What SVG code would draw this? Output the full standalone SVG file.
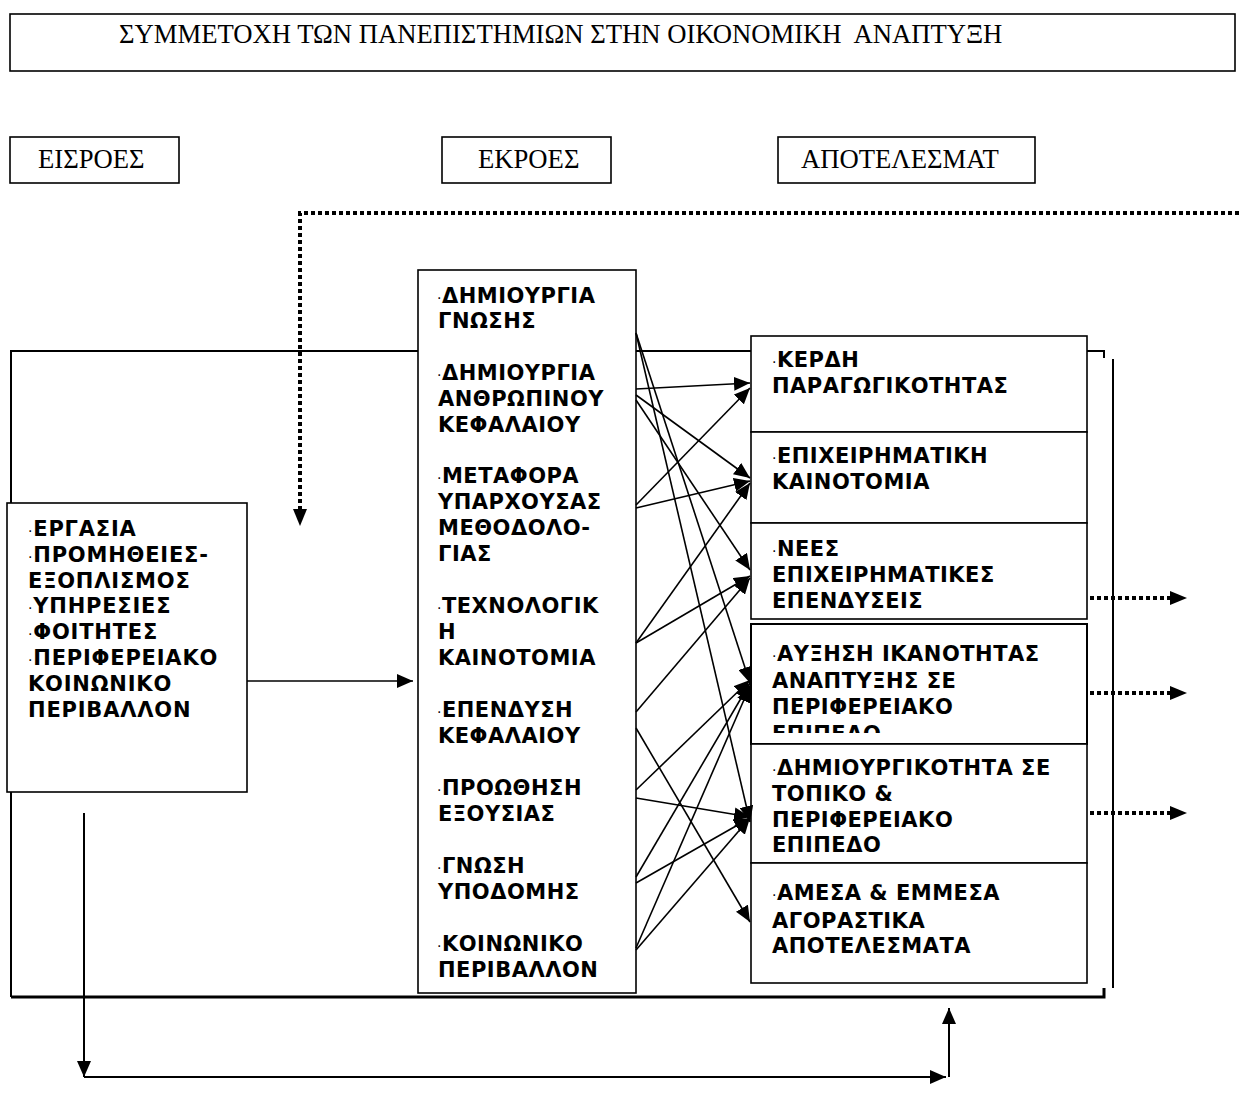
<svg xmlns="http://www.w3.org/2000/svg" width="1239" height="1107" viewBox="0 0 1239 1107">
<style>
.box{fill:#fff;stroke:#000;stroke-width:1.6}
.t{font-family:"Liberation Serif","Times New Roman",serif;font-size:26.67px;fill:#000}
.b{font-family:"DejaVu Sans",Verdana,sans-serif;font-weight:bold;font-size:21px;fill:#000;letter-spacing:0.5px}
.bul{font-size:14px;font-weight:normal}
.con{stroke:#000;stroke-width:1.6;fill:none}
.dot{stroke:#000;stroke-width:4;fill:none;stroke-dasharray:4 3}
.frame{stroke:#000;stroke-width:2;fill:none}
</style>
<defs>
<marker id="ah" viewBox="0 0 16 14" refX="16" refY="7" markerWidth="16" markerHeight="14" markerUnits="userSpaceOnUse" orient="auto"><path d="M0,0 L16,7 L0,14 z" fill="#000"/></marker>
<marker id="ahd" viewBox="0 0 17 14" refX="0" refY="7" markerWidth="17" markerHeight="14" markerUnits="userSpaceOnUse" orient="auto"><path d="M0,0 L17,7 L0,14 z" fill="#000"/></marker>
<clipPath id="clipD"><rect x="751" y="624" width="335" height="109"/></clipPath>
</defs>

<g id="frame">
<path class="frame" d="M1104,358 V351 H11 V997"/>
<path class="frame" style="stroke-width:3" d="M11,997 H1104 V988"/>
<path class="frame" d="M1113,359 V988"/>
</g>

<g id="title">
<rect class="box" x="10" y="14" width="1225" height="57"/>
<text class="t" x="119" y="43" xml:space="preserve">ΣΥΜΜΕΤΟΧΗ ΤΩΝ ΠΑΝΕΠΙΣΤΗΜΙΩΝ ΣΤΗΝ ΟΙΚΟΝΟΜΙΚΗ  ΑΝΑΠΤΥΞΗ</text>
</g>
<g id="h-inputs">
<rect class="box" x="10" y="137" width="169" height="46"/>
<text class="t" x="38" y="168">ΕΙΣΡΟΕΣ</text>
</g>
<g id="h-outputs">
<rect class="box" x="442" y="137" width="169" height="46"/>
<text class="t" x="478" y="168">ΕΚΡΟΕΣ</text>
</g>
<g id="h-results">
<rect class="box" x="778" y="137" width="257" height="46"/>
<text class="t" x="801" y="168">ΑΠΟΤΕΛΕΣΜΑΤ</text>
</g>

<g id="inputs">
<rect class="box" x="7" y="503" width="240" height="289"/>
<text class="b" style="letter-spacing:0.8px"><tspan x="28" y="536"><tspan class="bul">·</tspan>ΕΡΓΑΣΙΑ</tspan><tspan x="28" y="562"><tspan class="bul">·</tspan>ΠΡΟΜΗΘΕΙΕΣ-</tspan><tspan x="28" y="588">ΕΞΟΠΛΙΣΜΟΣ</tspan><tspan x="28" y="613"><tspan class="bul">·</tspan>ΥΠΗΡΕΣΙΕΣ</tspan><tspan x="28" y="639"><tspan class="bul">·</tspan>ΦΟΙΤΗΤΕΣ</tspan><tspan x="28" y="665"><tspan class="bul">·</tspan>ΠΕΡΙΦΕΡΕΙΑΚΟ</tspan><tspan x="28" y="691">ΚΟΙΝΩΝΙΚΟ</tspan><tspan x="28" y="717">ΠΕΡΙΒΑΛΛΟΝ</tspan></text>
</g>

<g id="outputs">
<rect class="box" x="418" y="270" width="218" height="723"/>
<text class="b"><tspan x="437" y="303"><tspan class="bul">·</tspan>ΔΗΜΙΟΥΡΓΙΑ</tspan><tspan x="438" y="328">ΓΝΩΣΗΣ</tspan><tspan x="437" y="380"><tspan class="bul">·</tspan>ΔΗΜΙΟΥΡΓΙΑ</tspan><tspan x="438" y="406">ΑΝΘΡΩΠΙΝΟΥ</tspan><tspan x="438" y="432">ΚΕΦΑΛΑΙΟΥ</tspan><tspan x="437" y="483"><tspan class="bul">·</tspan>ΜΕΤΑΦΟΡΑ</tspan><tspan x="438" y="509">ΥΠΑΡΧΟΥΣΑΣ</tspan><tspan x="438" y="535">ΜΕΘΟΔΟΛΟ-</tspan><tspan x="438" y="561">ΓΙΑΣ</tspan><tspan x="437" y="613"><tspan class="bul">·</tspan>ΤΕΧΝΟΛΟΓΙΚ</tspan><tspan x="438" y="639">Η</tspan><tspan x="438" y="665">ΚΑΙΝΟΤΟΜΙΑ</tspan><tspan x="437" y="717"><tspan class="bul">·</tspan>ΕΠΕΝΔΥΣΗ</tspan><tspan x="438" y="743">ΚΕΦΑΛΑΙΟΥ</tspan><tspan x="437" y="795"><tspan class="bul">·</tspan>ΠΡΟΩΘΗΣΗ</tspan><tspan x="438" y="821">ΕΞΟΥΣΙΑΣ</tspan><tspan x="437" y="873"><tspan class="bul">·</tspan>ΓΝΩΣΗ</tspan><tspan x="438" y="899">ΥΠΟΔΟΜΗΣ</tspan><tspan x="437" y="951"><tspan class="bul">·</tspan>ΚΟΙΝΩΝΙΚΟ</tspan><tspan x="438" y="977">ΠΕΡΙΒΑΛΛΟΝ</tspan></text>
</g>

<g id="r-productivity">
<rect class="box" x="751" y="336" width="336" height="96"/>
<text class="b"><tspan x="772" y="367"><tspan class="bul">·</tspan>ΚΕΡΔΗ</tspan><tspan x="772" y="393">ΠΑΡΑΓΩΓΙΚΟΤΗΤΑΣ</tspan></text>
</g>
<g id="r-innovation">
<rect class="box" x="751" y="432" width="336" height="91"/>
<text class="b"><tspan x="772" y="463"><tspan class="bul">·</tspan>ΕΠΙΧΕΙΡΗΜΑΤΙΚΗ</tspan><tspan x="772" y="489">ΚΑΙΝΟΤΟΜΙΑ</tspan></text>
</g>
<g id="r-investments">
<rect class="box" x="751" y="523" width="336" height="96"/>
<text class="b"><tspan x="772" y="556"><tspan class="bul">·</tspan>ΝΕΕΣ</tspan><tspan x="772" y="582">ΕΠΙΧΕΙΡΗΜΑΤΙΚΕΣ</tspan><tspan x="772" y="608">ΕΠΕΝΔΥΣΕΙΣ</tspan></text>
</g>
<g id="r-capacity">
<rect class="box" x="751" y="624" width="336" height="120" style="stroke-width:2"/>
<text class="b" clip-path="url(#clipD)"><tspan x="772" y="661"><tspan class="bul">·</tspan>ΑΥΞΗΣΗ ΙΚΑΝΟΤΗΤΑΣ</tspan><tspan x="772" y="688">ΑΝΑΠΤΥΞΗΣ ΣΕ</tspan><tspan x="772" y="714">ΠΕΡΙΦΕΡΕΙΑΚΟ</tspan><tspan x="772" y="741">ΕΠΙΠΕΔΟ</tspan></text>
</g>
<g id="r-creativity">
<rect class="box" x="751" y="744" width="336" height="119"/>
<text class="b"><tspan x="772" y="775"><tspan class="bul">·</tspan>ΔΗΜΙΟΥΡΓΙΚΟΤΗΤΑ ΣΕ</tspan><tspan x="772" y="801">ΤΟΠΙΚΟ &amp;</tspan><tspan x="772" y="827">ΠΕΡΙΦΕΡΕΙΑΚΟ</tspan><tspan x="772" y="852">ΕΠΙΠΕΔΟ</tspan></text>
</g>
<g id="r-market">
<rect class="box" x="751" y="863" width="336" height="120"/>
<text class="b"><tspan x="772" y="900"><tspan class="bul">·</tspan>ΑΜΕΣΑ &amp; ΕΜΜΕΣΑ</tspan><tspan x="772" y="928">ΑΓΟΡΑΣΤΙΚΑ</tspan><tspan x="772" y="953">ΑΠΟΤΕΛΕΣΜΑΤΑ</tspan></text>
</g>

<g id="connectors">
<path class="dot" d="M1239,213 H300 V509" marker-end="url(#ahd)"/>
<path class="dot" d="M1090,598 H1170" marker-end="url(#ahd)"/>
<path class="dot" d="M1090,693 H1170" marker-end="url(#ahd)"/>
<path class="dot" d="M1090,813 H1170" marker-end="url(#ahd)"/>
<path class="con" d="M247,681 H413" marker-end="url(#ah)"/>
<path class="con" style="stroke-width:2" d="M84,813 V1077" marker-end="url(#ah)"/>
<path class="con" style="stroke-width:2" d="M84,1077 H946" marker-end="url(#ah)"/>
<path class="con" style="stroke-width:2" d="M949,1077 V1008" marker-end="url(#ah)"/>
<path class="con" d="M636,389 L750,383" marker-end="url(#ah)"/>
<path class="con" d="M636,505 L750,388" marker-end="url(#ah)"/>
<path class="con" d="M636,395 L750,478" marker-end="url(#ah)"/>
<path class="con" d="M636,508 L750,481" marker-end="url(#ah)"/>
<path class="con" d="M636,643 L750,483" marker-end="url(#ah)"/>
<path class="con" d="M636,400 L750,570" marker-end="url(#ah)"/>
<path class="con" d="M636,643 L750,576" marker-end="url(#ah)"/>
<path class="con" d="M636,712 L750,578" marker-end="url(#ah)"/>
<path class="con" d="M636,333 L750,683" marker-end="url(#ah)"/>
<path class="con" d="M636,790 L750,680" marker-end="url(#ah)"/>
<path class="con" d="M636,877 L750,683" marker-end="url(#ah)"/>
<path class="con" d="M636,948 L750,686" marker-end="url(#ah)"/>
<path class="con" d="M636,333 L750,822" marker-end="url(#ah)"/>
<path class="con" d="M636,798 L750,817" marker-end="url(#ah)"/>
<path class="con" d="M636,883 L750,818" marker-end="url(#ah)"/>
<path class="con" d="M636,950 L750,818" marker-end="url(#ah)"/>
<path class="con" d="M636,728 L750,922" marker-end="url(#ah)"/>
</g>
</svg>
